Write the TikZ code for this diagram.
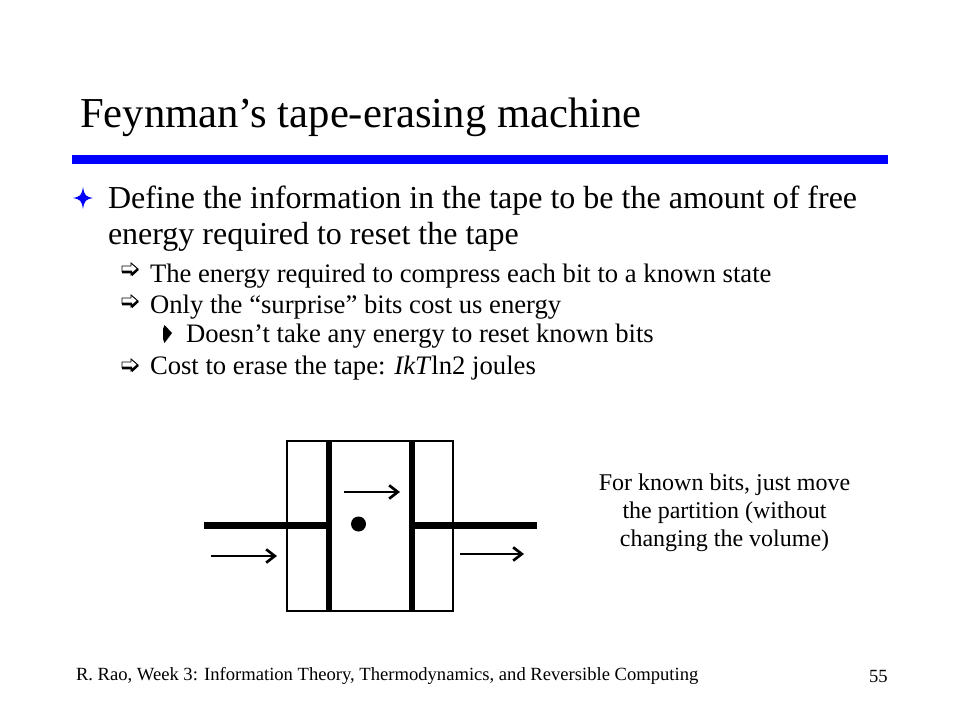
\documentclass[tikz,border=0pt]{standalone}
\usepackage{fontspec}
\setmainfont{Liberation Serif}
\usetikzlibrary{arrows.meta}
\definecolor{slideblue}{RGB}{0,0,255}
\tikzset{
  txt/.style={anchor=base west,inner sep=0pt,outer sep=0pt},
  titletxt/.style={txt,font=\fontsize{32}{34}\selectfont},
  lvlone/.style={txt,font=\fontsize{24}{26}\selectfont},
  lvltwo/.style={txt,font=\fontsize{20}{22}\selectfont},
  smalltxt/.style={txt,font=\fontsize{13.95}{16}\selectfont},
  note/.style={anchor=center,align=center,inner sep=0pt,font=\fontsize{18}{21}\selectfont},
  wall/.style={line width=2.1pt,black},
  partition/.style={line width=4pt,black},
  rod/.style={line width=5pt,black},
  motion/.style={line width=1.6pt,black,-{Straight Barb[length=6.5pt,width=10pt,line width=2pt]}},
  star/.pic={\fill[slideblue] (0,-11) .. controls (1.5,-2.5) and (2.5,-1.5) .. (10,0) .. controls (2.5,1.5) and (1.5,2.5) .. (0,11) .. controls (-1.5,2.5) and (-2.5,1.5) .. (-10,0) .. controls (-2.5,-1.5) and (-1.5,-2.5) .. (0,-11) -- cycle;},
  hollowarrow/.pic={\draw[black,line width=0.7pt,fill=white] (-8,-3) -- (1,-3) -- (1,-6) -- (8,0) -- (1,6) -- (1,2.5) -- (-8,2.5) -- cycle;
     \draw[black,line width=1.9pt] (-8,3) -- (2,3) (1.5,6) -- (8,0);},
  blackdiamond/.pic={\fill[black] (-4,-5) -- (-2.5,-9) -- (5,-1) -- (-2.5,9) -- (-4,5) -- cycle;}
}
\begin{document}
\begin{tikzpicture}[x=0.75pt,y=-0.75pt]
\useasboundingbox (0,0) rectangle (960,720);
\fill[white] (0,0) rectangle (960,720);
\node[titletxt] (title) at (80,128) {Feynman’s tape-erasing machine};
\fill[slideblue] (72,155) rectangle (888,164);
\pic at (83,198) {star};
\node[lvlone] (l1a) at (108,208.5) {Define the information in the tape to be the amount of free};
\node[lvlone] (l1b) at (108,245) {energy required to reset the tape};
\pic at (130,269) {hollowarrow};
\node[lvltwo] (l2a) at (150,282.5) {The energy required to compress each bit to a known state};
\pic at (130,301) {hollowarrow};
\node[lvltwo] (l2b) at (150,313) {Only the “surprise” bits cost us energy};
\pic at (167,334) {blackdiamond};
\node[lvltwo] (l3a) at (186,342) {Doesn’t take any energy to reset known bits};
\pic at (130,365) {hollowarrow};
\node[lvltwo] (l2c) at (150,374) {Cost to erase the tape: \textit{IkT}ln2 joules};
\node[note] (nt) at (724.5,513) {For known bits, just move\\the partition (without\\changing the volume)};
\node[smalltxt] (foot) at (76,680) {R. Rao, Week 3: Information Theory, Thermodynamics, and Reversible Computing};
\node[smalltxt] (pg) at (869,682) {55};
\coordinate (bnw) at (287,441); \coordinate (bse) at (453,611);
\draw[wall] (bnw) rectangle (bse);
\coordinate (p1t) at (329,441); \coordinate (p1b) at (329,611);
\coordinate (p2t) at (412,441); \coordinate (p2b) at (412,611);
\draw[partition] (p1t) -- (p1b);
\draw[partition] (p2t) -- (p2b);
\coordinate (r1a) at (204,525.5); \coordinate (r1b) at (329,525.5);
\coordinate (r2a) at (412,525.5); \coordinate (r2b) at (537,525.5);
\draw[rod] (r1a) -- (r1b);
\draw[rod] (r2a) -- (r2b);
\fill[black] (358.5,524) circle (7.5);
\coordinate (m1a) at (344,492); \coordinate (m1b) at (400,492);
\coordinate (m2a) at (211,556); \coordinate (m2b) at (277,556);
\coordinate (m3a) at (460,554); \coordinate (m3b) at (524,554);
\draw[motion] (m1a) -- (m1b);
\draw[motion] (m2a) -- (m2b);
\draw[motion] (m3a) -- (m3b);
\end{tikzpicture}
\end{document}
